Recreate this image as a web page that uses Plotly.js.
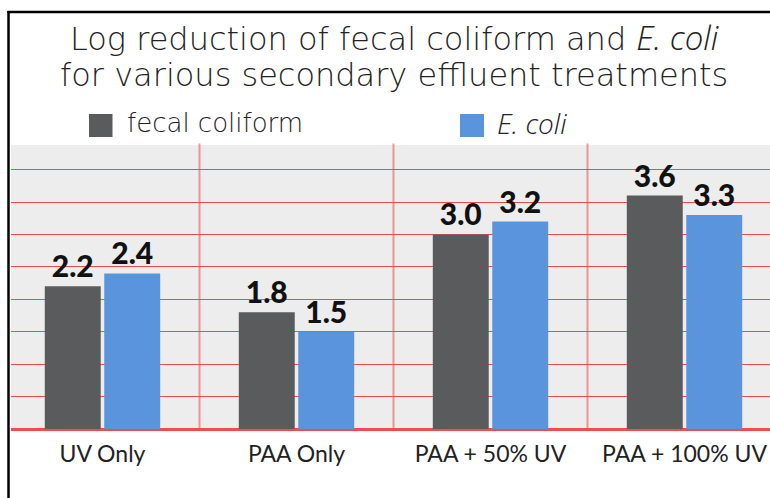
<!DOCTYPE html>
<html><head><meta charset="utf-8">
<script src="https://cdn.plot.ly/plotly-3.0.1.min.js"></script>
<style>html,body{margin:0;padding:0;background:#fff;} #chart{width:770px;height:498px;}</style>
</head><body><div id="chart"></div>
<script>
const categories = ["UV Only", "PAA Only", "PAA + 50% UV", "PAA + 100% UV"];
const fecalColiform = [2.2, 1.8, 3.0, 3.6];
const eColi = [2.4, 1.5, 3.2, 3.3];
const ITAL = (s, size) => "<span style=\"font-family:'Open Sans';font-weight:300;font-style:italic;font-size:" + size + "px\">" + s + "</span>";
const seriesNames = ["fecal coliform", ITAL("E. coli", 28)];
const titleLines = ["Log reduction of fecal coliform and " + ITAL("E. coli", 33), "for various secondary effluent treatments"];

const WIDE = "'DejaVu Sans', sans-serif";
const TICK = "Lato, sans-serif";
const W = 770, H = 498, ML = 11, MR = 0, MT = 145, MB = 69;
const PW = W - ML - MR, PH = H - MT - MB;
const px = x => (x - ML) / PW;           // pixel -> paper x
const py = y => (H - MB - y) / PH;       // pixel -> paper y

const colors = ["#5a5b5d", "#5a94dd"];
const labelFont = {family: "Lato, sans-serif", size: 30, color: "#111", weight: 900};

const traces = [fecalColiform, eColi].map((vals, i) => ({
  type: "bar", x: categories, y: vals, name: seriesNames[i],
  marker: {color: colors[i]},
  text: vals.map(v => v.toFixed(1)), textposition: "outside",
  textfont: labelFont, cliponaxis: false, hoverinfo: "skip"
}));

const dividers = categories.slice(1).map((c, i) => ({
  type: "line", xref: "x", yref: "paper", x0: i + 0.5, x1: i + 0.5, y0: 0, y1: 1.005,
  line: {color: "rgba(240,90,90,0.6)", width: 2}, layer: "below"
}));

const layout = {
  width: W, height: H,
  margin: {l: ML, r: MR, t: MT, b: MB, pad: 0},
  paper_bgcolor: "#ffffff", plot_bgcolor: "#ecedec",
  showlegend: false,
  barmode: "group", bargap: 0.387, bargroupgap: 0.059,
  font: {family: WIDE, color: "#222"},
  xaxis: {
    type: "category", range: [-0.4716, 3.4407],
    showgrid: false, ticks: "", showline: false, zeroline: false,
    ticklabelstandoff: 9,
    tickfont: {family: TICK, size: 23, color: "#222"}, fixedrange: true
  },
  yaxis: {
    range: [0, 4.38], dtick: 0.5, tick0: 0, showticklabels: false, ticks: "",
    showgrid: true, gridcolor: "rgb(238,75,75)", gridwidth: 1,
    zeroline: true, zerolinecolor: "rgb(245,75,80)", zerolinewidth: 3, showline: false
  },
  annotations: [
    {text: titleLines[0], xref: "paper", yref: "paper", x: px(394), y: py(37), xanchor: "center", yanchor: "middle",
     showarrow: false, font: {family: WIDE, size: 32, color: "#222", weight: 300}},
    {text: titleLines[1], xref: "paper", yref: "paper", x: px(394), y: py(74.5), xanchor: "center", yanchor: "middle",
     showarrow: false, font: {family: WIDE, size: 32, color: "#222", weight: 300}},
    {text: seriesNames[0], xref: "paper", yref: "paper", x: px(125), y: py(123), xanchor: "left", yanchor: "middle",
     showarrow: false, font: {family: WIDE, size: 26, color: "#222", weight: 300}},
    {text: seriesNames[1], xref: "paper", yref: "paper", x: px(495), y: py(123), xanchor: "left", yanchor: "middle",
     showarrow: false, font: {family: WIDE, size: 26, color: "#222", weight: 300}}
  ],
  shapes: dividers.concat([
    {type: "rect", xref: "paper", yref: "paper", x0: px(89), x1: px(112.5), y0: py(137), y1: py(114),
     fillcolor: colors[0], line: {width: 0}},
    {type: "rect", xref: "paper", yref: "paper", x0: px(460), x1: px(484), y0: py(137), y1: py(114),
     fillcolor: colors[1], line: {width: 0}},
    {type: "line", xref: "paper", yref: "paper", x0: px(8.5), x1: px(8.5), y0: py(11), y1: py(500),
     line: {color: "#000", width: 2.5}},
    {type: "line", xref: "paper", yref: "paper", x0: px(7.5), x1: px(772), y0: py(12), y1: py(12),
     line: {color: "#000", width: 2.5}}
  ])
};

Plotly.newPlot("chart", traces, layout, {displayModeBar: false, staticPlot: true});
</script></body></html>
